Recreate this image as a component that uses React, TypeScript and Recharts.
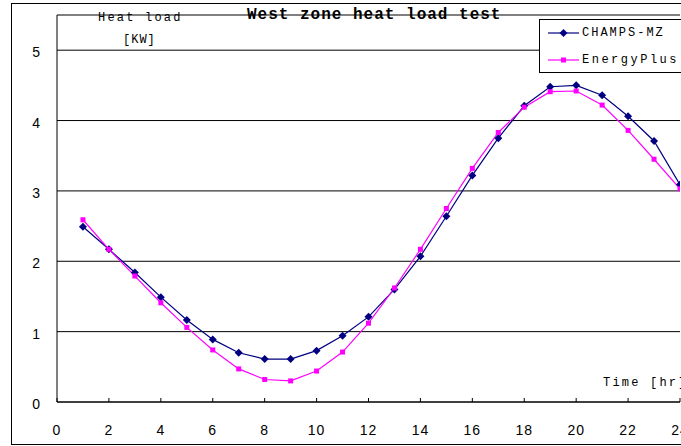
import { LineChart, Line, XAxis, YAxis, CartesianGrid } from 'recharts';

const hours = [1, 2, 3, 4, 5, 6, 7, 8, 9, 10, 11, 12, 13, 14, 15, 16, 17, 18, 19, 20, 21, 22, 23, 24];
const champsMz = [2.49, 2.17, 1.84, 1.49, 1.165, 0.89, 0.7, 0.61, 0.61, 0.73, 0.94, 1.21, 1.6, 2.07, 2.64, 3.22, 3.75, 4.21, 4.48, 4.5, 4.36, 4.06, 3.71, 3.09];
const energyPlus = [2.59, 2.17, 1.79, 1.41, 1.06, 0.74, 0.47, 0.32, 0.3, 0.44, 0.71, 1.12, 1.62, 2.17, 2.75, 3.32, 3.83, 4.19, 4.41, 4.42, 4.22, 3.86, 3.45, 3.03];
const xTicks = [0, 2, 4, 6, 8, 10, 12, 14, 16, 18, 20, 22, 24];
const yTicks = [0, 1, 2, 3, 4, 5];

const data = hours.map((h, i) => ({ hour: h, champs: champsMz[i], eplus: energyPlus[i] }));

const NAVY = '#000080';
const MAGENTA = '#ff00ff';
const monoFont = '"Liberation Mono", "DejaVu Sans Mono", monospace';
const tickFont = '"Liberation Sans", Arial, sans-serif';

const Diamond = ({ cx, cy }: any) => {
  if (cx == null || cy == null) return null;
  return <polygon points={`${cx},${cy - 4} ${cx + 4},${cy} ${cx},${cy + 4} ${cx - 4},${cy}`} fill={NAVY} />;
};

const Square = ({ cx, cy }: any) => {
  if (cx == null || cy == null) return null;
  return <rect x={cx - 2.5} y={cy - 2.5} width={5} height={5} fill={MAGENTA} />;
};

const XTick = ({ x, y, payload }: any) => (
  <g>
    <line x1={x} y1={y - 4} x2={x} y2={y} stroke="#000" strokeWidth={1} />
    <text x={x} y={y + 33} textAnchor="middle" fontSize={14} fontFamily={tickFont} fill="#000" letterSpacing={1}>
      {payload.value}
    </text>
  </g>
);

const YTick = ({ x, y, payload }: any) => (
  <text x={x - 17} y={y + 7} textAnchor="end" fontSize={14} fontFamily={tickFont} fill="#000">
    {payload.value}
  </text>
);

export default function App() {
  return (
    <div style={{ position: 'absolute', left: 0, top: 0, width: 681, height: 446, overflow: 'hidden', background: '#fff' }}>
      <div style={{ position: 'absolute', left: 11, top: 3, width: 740, height: 442, border: '1px solid #000', boxSizing: 'border-box' }} />
      <div style={{ position: 'absolute', left: 0, top: 0 }}>
        <LineChart width={700} height={446} data={data} margin={{ top: 15, right: 20, bottom: 14, left: 0 }}>
          <CartesianGrid vertical={false} stroke="#000" strokeWidth={1} />
          <XAxis
            dataKey="hour"
            type="number"
            domain={[0, 24]}
            ticks={xTicks}
            allowDataOverflow
            height={30}
            axisLine={{ stroke: '#000' }}
            tickLine={false}
            tickSize={0}
            tickMargin={0}
            tick={<XTick />}
            interval={0}
          />
          <YAxis
            type="number"
            domain={[0, 5.5]}
            ticks={yTicks}
            allowDataOverflow
            width={57}
            axisLine={{ stroke: '#000' }}
            tickLine={false}
            tickSize={0}
            tickMargin={0}
            tick={<YTick />}
            interval={0}
          />
          <Line dataKey="champs" stroke={NAVY} strokeWidth={1.2} dot={<Diamond />} activeDot={false} isAnimationActive={false} />
          <Line dataKey="eplus" stroke={MAGENTA} strokeWidth={1.2} dot={<Square />} activeDot={false} isAnimationActive={false} />
        </LineChart>
      </div>

      <div style={{ position: 'absolute', left: 247, top: 5, fontFamily: monoFont, fontWeight: 'bold', fontSize: 16, letterSpacing: 1, whiteSpace: 'nowrap', lineHeight: '20px' }}>
        West zone heat load test
      </div>
      <div style={{ position: 'absolute', left: 98, top: 10, fontFamily: monoFont, fontSize: 12, letterSpacing: 2.2, whiteSpace: 'nowrap', lineHeight: '16px' }}>
        Heat load
      </div>
      <div style={{ position: 'absolute', left: 123, top: 32, fontFamily: monoFont, fontSize: 12, letterSpacing: 1, whiteSpace: 'nowrap', lineHeight: '16px' }}>
        [KW]
      </div>
      <div style={{ position: 'absolute', left: 603, top: 375, fontFamily: monoFont, fontSize: 12, letterSpacing: 2.2, whiteSpace: 'nowrap', lineHeight: '16px' }}>
        Time [hr]
      </div>

      <div style={{ position: 'absolute', left: 539, top: 19, width: 160, height: 54, border: '1px solid #000', boxSizing: 'border-box', background: '#fff' }}>
        <svg width={40} height={54} style={{ position: 'absolute', left: 0, top: 0 }}>
          <line x1={8} y1={13} x2={39} y2={13} stroke={NAVY} strokeWidth={1.2} />
          <polygon points="23.5,9 27.5,13 23.5,17 19.5,13" fill={NAVY} />
          <line x1={8} y1={40} x2={39} y2={40} stroke={MAGENTA} strokeWidth={1.2} />
          <rect x={21} y={37.5} width={5} height={5} fill={MAGENTA} />
        </svg>
        <div style={{ position: 'absolute', left: 42, top: 5, fontFamily: monoFont, fontSize: 12, letterSpacing: 2, whiteSpace: 'nowrap', lineHeight: '16px' }}>
          CHAMPS-MZ
        </div>
        <div style={{ position: 'absolute', left: 42, top: 32, fontFamily: monoFont, fontSize: 12, letterSpacing: 2.5, whiteSpace: 'nowrap', lineHeight: '16px' }}>
          EnergyPlus
        </div>
      </div>
    </div>
  );
}
